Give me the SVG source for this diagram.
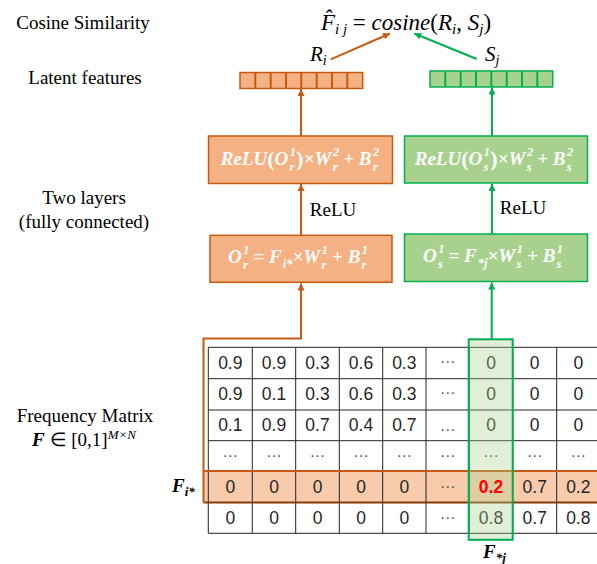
<svg xmlns="http://www.w3.org/2000/svg" width="597" height="564" viewBox="0 0 597 564">
<defs>
<style>
.lbl{font-family:"Liberation Serif","Times New Roman",serif;font-size:19px;fill:#000;text-anchor:middle}
.math{font-family:"Liberation Serif","Times New Roman",serif;font-style:italic;fill:#000}
.bx{font-family:"Liberation Serif","Times New Roman",serif;font-style:italic;font-weight:bold;font-size:19px;fill:#fff;text-anchor:middle}
.sc{font-size:12.5px}
.num{font-family:"Liberation Sans",Arial,sans-serif;font-size:17.5px;fill:#262626;text-anchor:middle}
.dots{font-family:"Liberation Sans",Arial,sans-serif;font-size:16px;fill:#555;text-anchor:middle}
.ob{fill:#F4B183;stroke:#C55A11;stroke-width:1.5}
.gb{fill:#A9D18E;stroke:#00B050;stroke-width:1.5}
.oc{fill:none;stroke:#C55A11;stroke-width:2}
.gc{fill:none;stroke:#00B050;stroke-width:2}
.grid{stroke:#222;stroke-width:1;fill:none}
</style>
<marker id="ao" markerUnits="userSpaceOnUse" markerWidth="8" markerHeight="7" refX="7" refY="3.5" orient="auto"><path d="M0,0 L7,3.5 L0,7 z" fill="#C55A11"/></marker>
<marker id="ag" markerUnits="userSpaceOnUse" markerWidth="8" markerHeight="7" refX="7" refY="3.5" orient="auto"><path d="M0,0 L7,3.5 L0,7 z" fill="#00B050"/></marker>
</defs>
<rect width="597" height="564" fill="#fff"/>

<g id="left-labels">
<text class="lbl" x="83" y="29">Cosine Similarity</text>
<text class="lbl" x="85" y="84">Latent features</text>
<text class="lbl" x="84" y="204">Two layers</text>
<text class="lbl" x="84" y="228">(fully connected)</text>
<text class="lbl" x="85" y="422">Frequency Matrix</text>
<text class="lbl" x="84" y="446"><tspan font-weight="bold" font-style="italic">F</tspan> ∈ [0,1]<tspan class="math" font-size="13" dy="-7">M×N</tspan></text>
</g>

<g id="formula">
<text class="math" x="406" y="30" font-size="23" text-anchor="middle">F̂<tspan font-size="15" dy="4">i j</tspan><tspan dy="-4" font-style="normal"> = </tspan>cosine<tspan font-style="normal">(</tspan>R<tspan font-size="15" dy="4">i</tspan><tspan dy="-4" font-style="normal">, </tspan>S<tspan font-size="15" dy="4">j</tspan><tspan dy="-4" font-style="normal">)</tspan></text>
<text class="math" x="310" y="61" font-size="21">R<tspan font-size="14" dy="4">i</tspan></text>
<text class="math" x="485" y="61" font-size="21">S<tspan font-size="14" dy="4">j</tspan></text>
</g>

<g id="latent-r">
<rect class="ob" x="240" y="72.5" width="122.7" height="16"/>
<path class="oc" stroke-width="1.5" d="M255.3,72.5V88.5M270.7,72.5V88.5M286,72.5V88.5M301.3,72.5V88.5M316.7,72.5V88.5M332,72.5V88.5M347.3,72.5V88.5"/>
</g>
<g id="latent-s">
<rect class="gb" x="430" y="71" width="122.7" height="16"/>
<path class="gc" stroke-width="1.5" d="M445.3,71V87M460.7,71V87M476,71V87M491.3,71V87M506.7,71V87M522,71V87M537.3,71V87"/>
</g>

<g id="layer2-r">
<rect class="ob" x="208.5" y="136" width="184" height="47.5"/>
<text class="bx" x="300" y="165">ReLU<tspan font-style="normal" font-size="22" dy="1">(</tspan><tspan dy="-1">O</tspan><tspan class="sc" dx="1.5" dy="-9.5">1</tspan><tspan class="sc" dx="-6.5" dy="15">r</tspan><tspan font-style="normal" font-size="22" dx="2" dy="-4.5">)</tspan><tspan dy="-1">×W</tspan><tspan class="sc" dx="1.5" dy="-9.5">2</tspan><tspan class="sc" dx="-6.5" dy="15">r</tspan><tspan dx="1" dy="-5.5"> + B</tspan><tspan class="sc" dx="1.5" dy="-9.5">2</tspan><tspan class="sc" dx="-6.5" dy="15">r</tspan></text>
</g>
<g id="layer1-r">
<rect class="ob" x="210" y="235.3" width="182" height="47"/>
<text class="bx" x="298" y="263">O<tspan class="sc" dx="1.5" dy="-9.5">1</tspan><tspan class="sc" dx="-6.5" dy="15">r</tspan><tspan dx="1" dy="-5.5"> = F</tspan><tspan class="sc" dx="1" dy="5">i*</tspan><tspan dy="-5">×W</tspan><tspan class="sc" dx="1.5" dy="-9.5">1</tspan><tspan class="sc" dx="-6.5" dy="15">r</tspan><tspan dx="1" dy="-5.5"> + B</tspan><tspan class="sc" dx="1.5" dy="-9.5">1</tspan><tspan class="sc" dx="-6.5" dy="15">r</tspan></text>
</g>
<g id="layer2-s">
<rect class="gb" x="404.5" y="136" width="183" height="47"/>
<text class="bx" x="494" y="165">ReLU<tspan font-style="normal" font-size="22" dy="1">(</tspan><tspan dy="-1">O</tspan><tspan class="sc" dx="1.5" dy="-9.5">1</tspan><tspan class="sc" dx="-6.5" dy="15">s</tspan><tspan font-style="normal" font-size="22" dx="2" dy="-4.5">)</tspan><tspan dy="-1">×W</tspan><tspan class="sc" dx="1.5" dy="-9.5">2</tspan><tspan class="sc" dx="-6.5" dy="15">s</tspan><tspan dx="1" dy="-5.5"> + B</tspan><tspan class="sc" dx="1.5" dy="-9.5">2</tspan><tspan class="sc" dx="-6.5" dy="15">s</tspan></text>
</g>
<g id="layer1-s">
<rect class="gb" x="404.5" y="234" width="183" height="47.5"/>
<text class="bx" x="493" y="262">O<tspan class="sc" dx="1.5" dy="-9.5">1</tspan><tspan class="sc" dx="-6.5" dy="15">s</tspan><tspan dx="1" dy="-5.5"> = F</tspan><tspan class="sc" dx="1" dy="5">*j</tspan><tspan dy="-5">×W</tspan><tspan class="sc" dx="1.5" dy="-9.5">1</tspan><tspan class="sc" dx="-6.5" dy="15">s</tspan><tspan dx="1" dy="-5.5"> + B</tspan><tspan class="sc" dx="1.5" dy="-9.5">1</tspan><tspan class="sc" dx="-6.5" dy="15">s</tspan></text>
</g>

<g id="relu-labels">
<text class="lbl" x="333" y="216">ReLU</text>
<text class="lbl" x="523" y="214">ReLU</text>
</g>

<g id="matrix">
<rect x="203.5" y="471" width="400" height="31.5" fill="#F8CBAD"/>
<path class="grid" d="M208.3,347.3H597M208.3,378.7H597M208.3,410H597M208.3,440.7H597M208.3,502.5H597M208.3,533.3H597M208.3,347.3V533.3M252.3,347.3V533.3M295.7,347.3V533.3M339.3,347.3V533.3M382.7,347.3V533.3M426,347.3V533.3M469.3,347.3V533.3M512.7,347.3V533.3M556.7,347.3V533.3"/>
<g class="num">
<text x="230.3" y="369">0.9</text><text x="274" y="369">0.9</text><text x="317.5" y="369">0.3</text><text x="361" y="369">0.6</text><text x="404.3" y="369">0.3</text><text x="491" y="369">0</text><text x="534.7" y="369">0</text><text x="578.3" y="369">0</text>
<text x="230.3" y="400.3">0.9</text><text x="274" y="400.3">0.1</text><text x="317.5" y="400.3">0.3</text><text x="361" y="400.3">0.6</text><text x="404.3" y="400.3">0.3</text><text x="491" y="400.3">0</text><text x="534.7" y="400.3">0</text><text x="578.3" y="400.3">0</text>
<text x="230.3" y="431.3">0.1</text><text x="274" y="431.3">0.9</text><text x="317.5" y="431.3">0.7</text><text x="361" y="431.3">0.4</text><text x="404.3" y="431.3">0.7</text><text x="491" y="431.3">0</text><text x="534.7" y="431.3">0</text><text x="578.3" y="431.3">0</text>
<text x="230.3" y="492.7">0</text><text x="274" y="492.7">0</text><text x="317.5" y="492.7">0</text><text x="361" y="492.7">0</text><text x="404.3" y="492.7">0</text><text x="534.7" y="492.7">0.7</text><text x="578.3" y="492.7">0.2</text>
<text x="230.3" y="523.7">0</text><text x="274" y="523.7">0</text><text x="317.5" y="523.7">0</text><text x="361" y="523.7">0</text><text x="404.3" y="523.7">0</text><text x="491" y="523.7">0.8</text><text x="534.7" y="523.7">0.7</text><text x="578.3" y="523.7">0.8</text>
</g>
<g class="dots">
<text x="447.7" y="363">…</text><text x="447.7" y="394.3">…</text><text x="447.7" y="430.5">…</text>
<text x="230.3" y="457">…</text><text x="274" y="457">…</text><text x="317.5" y="457">…</text><text x="361" y="457">…</text><text x="404.3" y="457">…</text><text x="447.7" y="457">…</text><text x="491" y="457">…</text><text x="534.7" y="457">…</text><text x="578.3" y="457">…</text>
<text x="447.7" y="488">…</text><text x="447.7" y="519">…</text>
</g>
<path d="M203.5,471H600" stroke="#C55A11" stroke-width="2" fill="none"/>
<path d="M203.5,502.5H600" stroke="#843C0C" stroke-width="2" fill="none"/>
<rect x="468.7" y="339.3" width="44" height="200.5" fill="#A9D18E" fill-opacity="0.35" stroke="#00B050" stroke-width="2"/>
<text class="num" x="491" y="492.7" style="fill:#FF0000" font-weight="bold">0.2</text>
<text x="172" y="492" class="math" font-weight="bold" font-size="19">F<tspan font-size="13" dy="4">i*</tspan></text>
<text x="483" y="558" class="math" font-weight="bold" font-size="19">F<tspan font-size="13" dy="4">*j</tspan></text>
</g>

<g id="connectors">
<path class="oc" d="M203.5,502.5V338.5H301V283.5" marker-end="url(#ao)"/>
<path class="oc" d="M301,235V184" marker-end="url(#ao)"/>
<path class="oc" d="M301,136V89" marker-end="url(#ao)"/>
<path class="gc" d="M491.7,339.3V282.5" marker-end="url(#ag)"/>
<path class="gc" d="M492,234V184" marker-end="url(#ag)"/>
<path class="gc" d="M492,136V87.5" marker-end="url(#ag)"/>
<path class="oc" d="M330.7,59.3L390,33.5" marker-end="url(#ao)"/>
<path class="gc" d="M476.7,59L414.3,33.5" marker-end="url(#ag)"/>
</g>
</svg>
